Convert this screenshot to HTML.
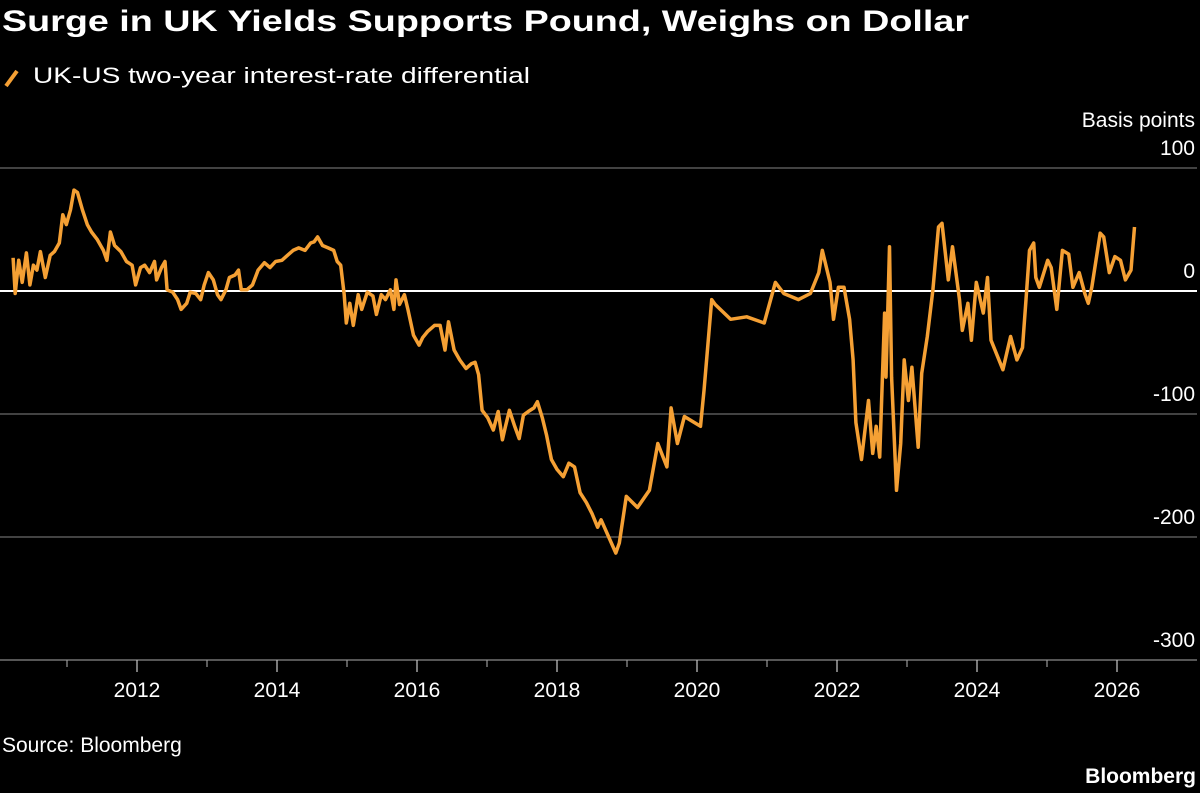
<!DOCTYPE html>
<html><head><meta charset="utf-8">
<style>
html,body{margin:0;padding:0;background:#000;}
svg{display:block;font-family:"Liberation Sans",sans-serif;}
</style></head>
<body>
<svg id="chart" width="1200" height="793" viewBox="0 0 1200 793">
<rect width="1200" height="793" fill="#000"/>
<text x="2" y="31" fill="#fff" font-size="30" font-weight="bold" textLength="967" lengthAdjust="spacingAndGlyphs">Surge in UK Yields Supports Pound, Weighs on Dollar</text>
<g>
<line x1="6" y1="86" x2="17" y2="71" stroke="#f5a034" stroke-width="4"/>
<text x="33" y="83" fill="#fff" font-size="22" textLength="497" lengthAdjust="spacingAndGlyphs">UK-US two-year interest-rate differential</text>
</g>
<text x="1195" y="127" fill="#fff" font-size="21" text-anchor="end">Basis points</text>
<g id="grid"></g>
<g id="xaxis"></g>
<path id="series" fill="none" stroke="#f5a034" stroke-width="3.5" stroke-linejoin="round"/>
<text x="2" y="752" fill="#fff" font-size="21">Source: Bloomberg</text>
<text x="1196" y="783" fill="#fff" font-size="21" font-weight="bold" text-anchor="end">Bloomberg</text>
</svg>
<script>
const yTicks = [100, 0, -100, -200, -300];
const yTickLabels = ["100", "0", "-100", "-200", "-300"];
const xTickYears = [2012, 2014, 2016, 2018, 2020, 2022, 2024, 2026];
const xTickLabels = ["2012", "2014", "2016", "2018", "2020", "2022", "2024", "2026"];
const minorYears = [2011, 2013, 2015, 2017, 2019, 2021, 2023, 2025];
const dates = [2010.23,2010.26,2010.31,2010.36,2010.42,2010.47,2010.52,2010.57,2010.62,2010.69,2010.76,2010.82,2010.89,2010.94,2010.99,2011.05,2011.10,2011.15,2011.22,2011.29,2011.35,2011.43,2011.52,2011.57,2011.62,2011.68,2011.77,2011.85,2011.93,2011.98,2012.05,2012.11,2012.18,2012.25,2012.28,2012.35,2012.40,2012.43,2012.51,2012.58,2012.63,2012.71,2012.76,2012.84,2012.91,
2012.96,2013.02,2013.09,2013.15,2013.20,2013.27,2013.32,2013.40,2013.45,2013.49,2013.57,2013.65,2013.73,2013.82,2013.90,2013.98,2014.07,2014.15,2014.23,2014.31,2014.40,2014.48,2014.53,2014.58,2014.65,2014.73,2014.81,2014.86,2014.91,
2014.96,2014.99,2015.04,2015.09,2015.16,2015.21,2015.29,2015.37,2015.42,2015.49,2015.55,2015.62,2015.67,2015.70,2015.75,2015.82,2015.87,2015.95,2016.03,2016.08,2016.15,2016.25,2016.33,2016.40,2016.45,2016.53,2016.61,2016.70,2016.78,2016.83,2016.88,
2016.93,2017.01,2017.09,2017.16,2017.22,2017.26,2017.32,2017.39,2017.46,2017.52,2017.59,2017.67,2017.72,2017.79,2017.85,2017.92,2018.00,2018.09,2018.17,2018.25,2018.33,2018.42,2018.50,2018.58,
2018.63,2018.84,2018.89,2018.99,2019.15,2019.32,2019.44,2019.57,2019.63,2019.72,2019.82,2020.05,2020.10,2020.21,2020.26,2020.48,2020.71,
2020.96,2021.12,2021.24,2021.45,2021.62,2021.74,2021.79,2021.90,2021.95,2022.02,2022.10,2022.18,2022.23,2022.27,2022.35,2022.45,2022.51,2022.56,2022.61,2022.68,2022.70,2022.75,2022.78,2022.85,
2022.91,2022.96,2023.02,2023.07,2023.16,2023.21,2023.29,2023.37,2023.45,2023.50,2023.59,2023.65,2023.75,2023.79,2023.87,2023.92,2023.99,2024.09,2024.15,2024.20,2024.37,2024.48,2024.57,2024.65,2024.70,2024.75,2024.81,
2024.84,2024.89,2025.01,2025.06,2025.14,2025.22,2025.31,2025.37,2025.46,2025.54,2025.59,2025.64,2025.76,2025.81,2025.89,2025.97,2026.05,2026.12,2026.20,2026.25];
const spread = [27,-2,25,7,31,5,21,17,32,11,29,32,39,62,54,66,82,80,66,54,48,42,33,25,48,37,32,24,21,5,19,21,15,24,9,19,24,1,-1,-7,-15,-10,-1,-2,-7,5,15,9,-3,-7,1,11,13,17,1,1,5,17,23,19,24,25,29,33,35,33,39,40,44,37,35,33,24,21,-3,-26,-10,-28,-3,-15,-1,-4,-19,-3,-7,1,-15,9,-11,-3,-15,-36,-44,-38,-33,-28,-28,-48,-25,-48,-56,-63,-59,-58,-68,-97,-103,-113,-98,-121,-111,-97,-109,-120,-101,-98,-95,-90,-103,-117,-137,-145,-151,-140,-143,-164,-172,-181,-192,
-186,-213,-205,-167,-176,-162,-124,-143,-95,-124,-102,-110,-81,-7,-11,-23,-21,-26,7,-2,-7,-2,15,33,7,-23,3,3,-23,-56,-107,-137,-89,-132,-110,-135,-18,-70,36,-70,-162,-124,-56,-89,-62,-127,-67,-37,1,52,55,9,36,-7,-32,-10,-40,7,-18,11,-40,-64,-37,-56,-46,-7,33,39,11,3,25,19,-15,33,30,3,15,-2,-10,3,47,44,15,28,25,9,17,52];

const NS = "http://www.w3.org/2000/svg";
function xScale(yr){ return 137 + (yr - 2012) * 70; }
function yScale(v){ return 291 - v * 1.23; }

const grid = document.getElementById('grid');
yTicks.forEach((t, i) => {
  const ln = document.createElementNS(NS, 'line');
  ln.setAttribute('x1', 0); ln.setAttribute('x2', 1197);
  ln.setAttribute('y1', yScale(t)); ln.setAttribute('y2', yScale(t));
  ln.setAttribute('stroke', t === 0 ? '#ffffff' : (t === -300 ? '#8a8a8a' : '#6a6a6a'));
  ln.setAttribute('stroke-width', t === 0 ? 2 : 1.3);
  
  
  grid.appendChild(ln);
  const tx = document.createElementNS(NS, 'text');
  tx.setAttribute('x', 1195); tx.setAttribute('y', yScale(t) - 13);
  tx.setAttribute('fill', '#fff'); tx.setAttribute('font-size', '21');
  tx.setAttribute('text-anchor', 'end');
  tx.textContent = yTickLabels[i];
  
  
  grid.appendChild(tx);
});

const xa = document.getElementById('xaxis');
xTickYears.forEach((yr, i) => {
  const tk = document.createElementNS(NS, 'line');
  tk.setAttribute('x1', xScale(yr)); tk.setAttribute('x2', xScale(yr));
  tk.setAttribute('y1', 660); tk.setAttribute('y2', 672);
  tk.setAttribute('stroke', '#bbb'); tk.setAttribute('stroke-width', 1.3);
  
  
  xa.appendChild(tk);
  const tx = document.createElementNS(NS, 'text');
  tx.setAttribute('x', xScale(yr)); tx.setAttribute('y', 697);
  tx.setAttribute('fill', '#fff'); tx.setAttribute('font-size', '21');
  tx.setAttribute('text-anchor', 'middle');
  tx.textContent = xTickLabels[i];
  
  
  xa.appendChild(tx);
});
minorYears.forEach(yr => {
  const tk = document.createElementNS(NS, 'line');
  tk.setAttribute('x1', xScale(yr)); tk.setAttribute('x2', xScale(yr));
  tk.setAttribute('y1', 660); tk.setAttribute('y2', 667);
  tk.setAttribute('stroke', '#999'); tk.setAttribute('stroke-width', 1.2);
  
  
  xa.appendChild(tk);
});

let d = '';
dates.forEach((yr, i) => {
  d += (i ? 'L' : 'M') + xScale(yr).toFixed(1) + ' ' + yScale(spread[i]).toFixed(1);
});
document.getElementById('series').setAttribute('d', d);
</script>
</body></html>
